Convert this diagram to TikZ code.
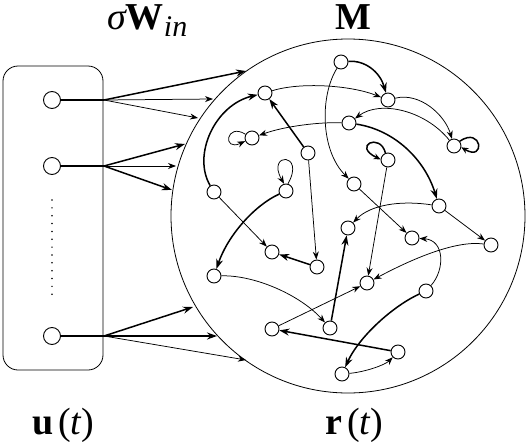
\documentclass[tikz,border=0pt]{standalone}
\usepackage{fontspec}
\setmainfont{Liberation Serif}
\usetikzlibrary{arrows.meta}
\begin{document}
\begin{tikzpicture}[x=1pt,y=-1pt,
  neuron/.style={circle,draw,line width=0.9pt,inner sep=0pt,minimum size=14pt,fill=white},
  inneuron/.style={circle,draw,line width=0.9pt,inner sep=0pt,minimum size=17pt,fill=white},
  thinarr/.style={line width=0.75pt,-{Stealth[length=8pt,width=6pt]}},
  thickarr/.style={line width=1.5pt,-{Stealth[length=10pt,width=7pt]}},
  loopthick/.style={line width=1.5pt,-{Stealth[length=7pt,width=6pt]}},
  feed/.style={line width=1.4pt},
  lbl/.style={font=\fontsize{38}{40}\selectfont,inner sep=0pt,anchor=base west}]
\useasboundingbox (0,0) rectangle (528,442);

% containers
\node[circle,draw,line width=0.8pt,minimum size=354pt,inner sep=0pt] (res) at (348,216) {};
\node[draw,line width=0.8pt,rounded corners=15pt,minimum width=100pt,minimum height=304pt,inner sep=0pt] (inbox) at (53,218) {};

% labels
\node[lbl] (lblW) at (107,29) {\itshape σ\upshape\bfseries W\mdseries\itshape\raisebox{-7pt}{\fontsize{30}{30}\selectfont in}};
\node[lbl,anchor=base] (lblM) at (353,29) {\bfseries M};
\node[lbl] (lblu) at (32,434) {\bfseries u\mdseries\hspace{5pt}(\itshape t\upshape)};
\node[lbl] (lblr) at (325,434) {\bfseries r\mdseries\hspace{5pt}(\itshape t\upshape)};

% input neurons
\node[inneuron] (u1) at (52,100) {};
\node[inneuron] (u2) at (52,166) {};
\node[inneuron] (u3) at (52,336) {};
\coordinate (f1) at (104,100);
\coordinate (f2) at (104,166);
\coordinate (f3) at (104,336);
\coordinate (d1) at (52,200);
\coordinate (d2) at (52,302);
\draw[line width=1.7pt,line cap=round,dash pattern=on 0pt off 7.85pt] (d1) -- (d2);

\coordinate (e11) at (246,71);
\coordinate (e12) at (213,99);
\coordinate (e13) at (198,118);
\coordinate (e21) at (185,144);
\coordinate (e22) at (176,166);
\coordinate (e23) at (172,190);
\coordinate (e31) at (193,307);
\coordinate (e32) at (217,336);
\coordinate (e33) at (246,360);

\draw[feed] (u1) -- (f1);
\draw[feed] (u2) -- (f2);
\draw[feed] (u3) -- (f3);
\draw[thickarr] (f1) -- (e11);
\draw[thinarr] (f1) -- (e12);
\draw[thinarr] (f1) -- (e13);
\draw[thickarr] (f2) -- (e21);
\draw[thinarr] (f2) -- (e22);
\draw[thickarr] (f2) -- (e23);
\draw[thickarr] (f3) -- (e31);
\draw[thickarr] (f3) -- (e32);
\draw[thinarr] (f3) -- (e33);

% reservoir neurons
\node[neuron] (A) at (265,93) {};
\node[neuron] (B) at (341,62) {};
\node[neuron] (I) at (388,100) {};
\node[neuron] (C) at (349,123) {};
\node[neuron] (J) at (454,146) {};
\node[neuron] (D) at (252,138) {};
\node[neuron] (E) at (308,153) {};
\node[neuron] (K) at (388,160) {};
\node[neuron] (H) at (354,184) {};
\node[neuron] (F) at (214,192) {};
\node[neuron] (G) at (286,191) {};
\node[neuron] (N) at (439,206) {};
\node[neuron] (O) at (348,228) {};
\node[neuron] (P) at (412,238) {};
\node[neuron] (Q) at (491,245) {};
\node[neuron] (W) at (272,252) {};
\node[neuron] (X) at (317,267) {};
\node[neuron] (Y) at (214,276) {};
\node[neuron] (R) at (367,283) {};
\node[neuron] (S) at (426,291) {};
\node[neuron] (T) at (330,328) {};
\node[neuron] (Z) at (272,329) {};
\node[neuron] (U) at (398,352) {};
\node[neuron] (V) at (342,374) {};

% reservoir connections
\draw[thickarr] (F) .. controls (192,155) and (215,105) .. (A);
\draw[thickarr] (E) -- (A);
\draw[thinarr] (C) .. controls (320,122) and (285,126) .. (D);
\draw[thinarr] (A) .. controls (300,82) and (350,85) .. (I);
\draw[thickarr] (B) .. controls (365,60) and (380,72) .. (I);
\draw[thinarr] (B) .. controls (320,95) and (320,150) .. (H);
\draw[thinarr] (E) -- (X);
\draw[thinarr] (G.75) .. controls (306,152) and (266,152) .. (G.105);
\draw[thinarr] (D.150) .. controls (226,122) and (222,152) .. (D.205);
\draw[thinarr] (F) -- (W);
\draw[thickarr] (G) .. controls (255,205) and (228,235) .. (Y);
\draw[thinarr] (I) .. controls (420,92) and (445,115) .. (J);
\draw[thinarr] (J) .. controls (425,110) and (380,100) .. (C);
\draw[loopthick] (J.40) .. controls (482,126) and (486,162) .. (J.-10);
\draw[loopthick] (K.110) .. controls (380,132) and (352,146) .. (K.175);
\draw[thickarr] (C) .. controls (395,130) and (425,160) .. (N);
\draw[thinarr] (K) -- (R);
\draw[thinarr] (H) -- (P);
\draw[thinarr] (N) .. controls (400,200) and (370,205) .. (O);
\draw[thinarr] (N) -- (Q);
\draw[thinarr] (Q) .. controls (455,240) and (410,260) .. (R);
\draw[thinarr] (S) .. controls (445,270) and (445,240) .. (P);
\draw[thickarr] (X) -- (W);
\draw[thinarr] (Y) .. controls (255,275) and (300,295) .. (T);
\draw[thinarr] (Z) -- (R);
\draw[thickarr] (T) -- (O);
\draw[thickarr] (U) -- (Z);
\draw[thickarr] (S) .. controls (395,305) and (360,335) .. (V);
\draw[thinarr] (V) .. controls (365,372) and (385,365) .. (U);
\end{tikzpicture}
\end{document}
